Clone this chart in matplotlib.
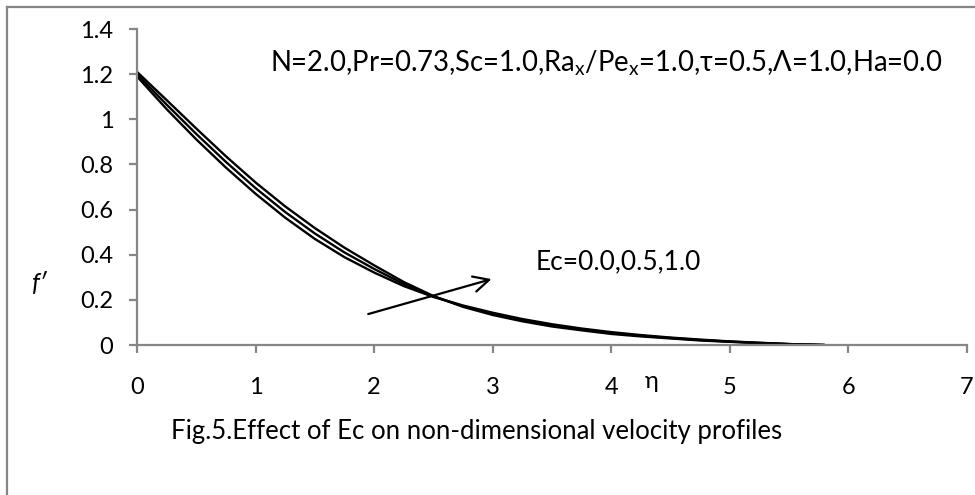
import numpy as np
import matplotlib as mpl
mpl.use('Agg')
import matplotlib.pyplot as plt
from matplotlib.lines import Line2D

plt.rcParams['font.family'] = ['Lato', 'DejaVu Sans']
plt.rcParams['mathtext.default'] = 'regular'

# ---------------------------------------------------------------
# data
# ---------------------------------------------------------------
eta = [0.0, 0.25, 0.5, 0.75, 1.0, 1.25, 1.5, 1.75, 2.0, 2.25, 2.5, 2.75,
       3.0, 3.25, 3.5, 3.75, 4.0, 4.25, 4.5, 4.75, 5.0, 5.25, 5.5, 5.8]
f_ec00 = [1.190, 1.045, 0.911, 0.786, 0.670, 0.564, 0.470, 0.389, 0.321, 0.261, 0.213, 0.175,
          0.143, 0.115, 0.092, 0.073, 0.057, 0.044, 0.033, 0.024, 0.016, 0.010, 0.004, 0.0]
f_ec05 = [1.200, 1.065, 0.935, 0.811, 0.695, 0.589, 0.494, 0.410, 0.337, 0.270, 0.215, 0.172,
          0.138, 0.110, 0.087, 0.069, 0.053, 0.041, 0.031, 0.022, 0.015, 0.009, 0.004, 0.0]
f_ec10 = [1.210, 1.085, 0.959, 0.836, 0.720, 0.614, 0.518, 0.431, 0.353, 0.279, 0.217, 0.169,
          0.133, 0.105, 0.082, 0.065, 0.049, 0.038, 0.029, 0.020, 0.014, 0.008, 0.004, 0.0]

xticks = [0, 1, 2, 3, 4, 5, 6, 7]
yticks = [0, 0.2, 0.4, 0.6, 0.8, 1, 1.2, 1.4]
ylabs = ['0', '0.2', '0.4', '0.6', '0.8', '1', '1.2', '1.4']

params = 'N=2.0,Pr=0.73,Sc=1.0,Ra$_x$/Pe$_x$=1.0,\u03c4=0.5,\u039b=1.0,Ha=0.0'
eclab = 'Ec=0.0,0.5,1.0'
caption = 'Fig.5.Effect of Ec on non-dimensional velocity profiles'

# ---------------------------------------------------------------
gray = '#868686'
fs = 17
fig = plt.figure(figsize=(9.75, 4.95), dpi=100, facecolor='w')
ax = fig.add_axes([137/975., 1-345/495., (967-137)/975., (345-29)/495.])

for f in (f_ec00, f_ec05, f_ec10):
    ax.plot(eta, f, color='black', lw=1.7, solid_capstyle='butt',
            solid_joinstyle='round')

ax.set_xlim(0, 7)
ax.set_ylim(0, 1.4)
ax.set_xticks(xticks)
ax.set_yticks(yticks)
ax.set_yticklabels(ylabs)
for s in ('top', 'right'):
    ax.spines[s].set_visible(False)
for s in ('left', 'bottom'):
    ax.spines[s].set_color(gray)
    ax.spines[s].set_linewidth(1.6)
ax.tick_params(axis='both', colors=gray, length=6, width=1.6,
               direction='out', labelcolor='black', labelsize=fs)
ax.tick_params(axis='x', pad=17)
ax.tick_params(axis='y', pad=11)
ax.patch.set_visible(False)

ax.text(1.12, 1.249, params, fontsize=19.8, va='center', ha='left')
ax.text(3.36, 0.37, eclab, fontsize=19, va='center', ha='left')
ax.annotate('', xy=(2.99, 0.292), xytext=(1.95, 0.137),
            arrowprops=dict(arrowstyle='->', lw=1.6, color='black',
                            mutation_scale=28, shrinkA=0, shrinkB=0))

fig.text(652/975., 1-382/495., '\u03b7', fontsize=fs, ha='center', va='center')
fig.text(40/975., 1-283/495., 'f\u2032', fontsize=18, style='italic',
         ha='center', va='center')
fig.text(477/975., 1-432/495., caption, fontsize=18.5, ha='center', va='center')

# chart frame (left and top only visible)
fig.add_artist(Line2D([7/975., 7/975.], [0, 1-7/495.], transform=fig.transFigure,
                      color=gray, lw=1.6))
fig.add_artist(Line2D([7/975., 1], [1-7/495., 1-7/495.], transform=fig.transFigure,
                      color=gray, lw=1.6))

plt.savefig('out.png', dpi=100)
